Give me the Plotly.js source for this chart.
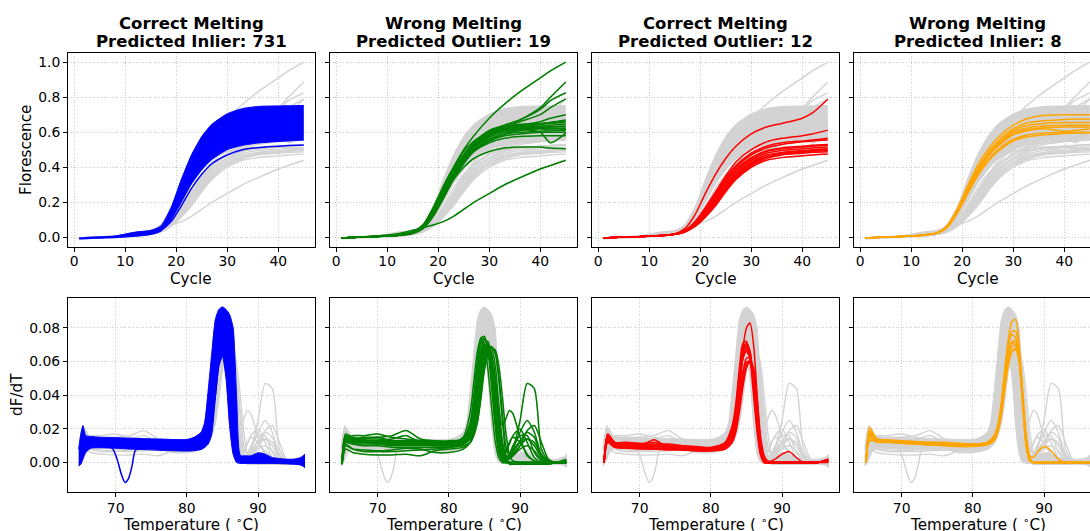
<!DOCTYPE html>
<html>
<head>
<meta charset="utf-8">
<script src="https://cdn.plot.ly/plotly-3.0.1.min.js"></script>
<style>
html,body{margin:0;padding:0;overflow:hidden;background:#fff;width:1090px;height:531px;}
#chart{width:1110px;height:545px;}
</style>
</head>
<body>
<div id="chart"></div>
<script>
// ---------------- DATA ----------------
const TITLES_TOP = ["Correct Melting", "Wrong Melting", "Correct Melting", "Wrong Melting"];
const TITLES_BOTTOM = ["Predicted Inlier: 731", "Predicted Outlier: 19", "Predicted Outlier: 12", "Predicted Inlier: 8"];
const X_TITLES = ["Cycle", "Temperature ( <sup>∘</sup>C)"];
const Y_TITLES = ["Florescence", "dF/dT"];

const CYCLES = [1, 4, 8, 12, 15, 17, 19, 21, 23, 25, 27, 30, 33, 36, 40, 42, 45];
const CYCLE_TICKS = [0, 10, 20, 30, 40];
const FLUOR_TICKS = [0, 0.2, 0.4, 0.6, 0.8, 1.0];
const FLUOR_TICK_TEXT = ["0.0", "0.2", "0.4", "0.6", "0.8", "1.0"];

// amplification: band of 731 inlier curves (upper / lower envelope) + separate blue curve
const AMP_BLUE_UPPER = [-0.005, 0.0, 0.008, 0.03, 0.04, 0.065, 0.17, 0.33, 0.47, 0.575, 0.645, 0.705, 0.735, 0.747, 0.75, 0.751, 0.752];
const AMP_BLUE_LOWER = [-0.01, -0.006, -0.002, 0.006, 0.016, 0.035, 0.1, 0.2, 0.305, 0.385, 0.445, 0.5, 0.525, 0.538, 0.547, 0.55, 0.555];
const AMP_BLUE_LINE  = [-0.005, 0.0, 0.004, 0.01, 0.02, 0.04, 0.09, 0.18, 0.28, 0.36, 0.42, 0.47, 0.5, 0.512, 0.52, 0.524, 0.527];

const AMP_GREEN = [
  [-0.004, 0, 0.006, 0.015, 0.03, 0.07, 0.17, 0.29, 0.4, 0.5, 0.58, 0.68, 0.76, 0.83, 0.91, 0.95, 1.0],
  [-0.004, 0, 0.005, 0.013, 0.028, 0.065, 0.16, 0.28, 0.39, 0.47, 0.54, 0.6, 0.64, 0.67, 0.74, 0.8, 0.887],
  [-0.003, 0, 0.005, 0.012, 0.027, 0.06, 0.15, 0.27, 0.38, 0.47, 0.54, 0.61, 0.64, 0.67, 0.73, 0.78, 0.825],
  [-0.003, 0, 0.005, 0.012, 0.026, 0.06, 0.14, 0.26, 0.37, 0.46, 0.53, 0.6, 0.63, 0.66, 0.7, 0.74, 0.79],
  [-0.003, 0.001, 0.006, 0.013, 0.027, 0.06, 0.15, 0.27, 0.38, 0.47, 0.53, 0.59, 0.62, 0.64, 0.66, 0.68, 0.70],
  [-0.003, 0.001, 0.006, 0.013, 0.028, 0.065, 0.16, 0.29, 0.4, 0.49, 0.55, 0.6, 0.63, 0.645, 0.65, 0.655, 0.665],
  [-0.003, 0, 0.005, 0.012, 0.026, 0.06, 0.15, 0.27, 0.38, 0.47, 0.53, 0.59, 0.62, 0.63, 0.635, 0.64, 0.645],
  [-0.003, 0, 0.005, 0.012, 0.025, 0.055, 0.14, 0.25, 0.36, 0.45, 0.52, 0.58, 0.61, 0.62, 0.625, 0.63, 0.63],
  [-0.004, 0, 0.005, 0.011, 0.024, 0.055, 0.13, 0.24, 0.35, 0.44, 0.51, 0.57, 0.6, 0.615, 0.62, 0.62, 0.62],
  [-0.004, 0, 0.005, 0.011, 0.024, 0.05, 0.12, 0.23, 0.34, 0.43, 0.5, 0.56, 0.59, 0.6, 0.605, 0.61, 0.61],
  [-0.003, 0.001, 0.006, 0.014, 0.03, 0.065, 0.15, 0.26, 0.36, 0.44, 0.5, 0.55, 0.58, 0.59, 0.6, 0.6, 0.6],
  [-0.003, 0, 0.004, 0.01, 0.022, 0.05, 0.12, 0.22, 0.33, 0.42, 0.49, 0.55, 0.59, 0.61, 0.62, 0.61, 0.615],
  [-0.004, 0, 0.005, 0.012, 0.025, 0.06, 0.14, 0.26, 0.37, 0.46, 0.52, 0.58, 0.61, 0.615, 0.6, 0.54, 0.595],
  [-0.003, 0, 0.005, 0.012, 0.026, 0.058, 0.14, 0.25, 0.36, 0.45, 0.52, 0.585, 0.615, 0.625, 0.63, 0.63, 0.635],
  [-0.003, 0, 0.005, 0.013, 0.027, 0.062, 0.15, 0.27, 0.38, 0.47, 0.54, 0.6, 0.63, 0.64, 0.645, 0.65, 0.655],
  [-0.003, 0, 0.005, 0.012, 0.026, 0.058, 0.14, 0.26, 0.37, 0.46, 0.53, 0.59, 0.62, 0.63, 0.645, 0.655, 0.67],
  [-0.003, 0, 0.006, 0.015, 0.032, 0.07, 0.15, 0.25, 0.33, 0.4, 0.45, 0.49, 0.51, 0.515, 0.515, 0.51, 0.505],
  [-0.003, 0.002, 0.008, 0.02, 0.04, 0.055, 0.07, 0.09, 0.12, 0.16, 0.2, 0.25, 0.3, 0.34, 0.39, 0.41, 0.44],
  [-0.004, 0, 0.005, 0.012, 0.025, 0.055, 0.13, 0.24, 0.34, 0.43, 0.49, 0.54, 0.565, 0.575, 0.58, 0.58, 0.58]
];

const AMP_RED = [
  [-0.004, 0, 0.004, 0.01, 0.02, 0.05, 0.13, 0.25, 0.36, 0.45, 0.52, 0.59, 0.63, 0.65, 0.68, 0.71, 0.788],
  [-0.004, 0, 0.004, 0.01, 0.02, 0.04, 0.09, 0.17, 0.26, 0.35, 0.43, 0.5, 0.545, 0.565, 0.58, 0.59, 0.612],
  [-0.004, 0, 0.004, 0.01, 0.019, 0.038, 0.085, 0.16, 0.25, 0.34, 0.41, 0.48, 0.52, 0.54, 0.55, 0.555, 0.565],
  [-0.004, 0, 0.004, 0.01, 0.019, 0.037, 0.08, 0.15, 0.24, 0.33, 0.4, 0.47, 0.51, 0.53, 0.545, 0.55, 0.555],
  [-0.004, 0, 0.004, 0.009, 0.018, 0.035, 0.078, 0.145, 0.23, 0.31, 0.38, 0.45, 0.49, 0.505, 0.515, 0.52, 0.525],
  [-0.004, 0, 0.004, 0.009, 0.018, 0.034, 0.075, 0.14, 0.22, 0.3, 0.37, 0.44, 0.48, 0.495, 0.505, 0.51, 0.515],
  [-0.004, 0, 0.004, 0.009, 0.018, 0.033, 0.07, 0.13, 0.21, 0.29, 0.36, 0.43, 0.47, 0.485, 0.495, 0.5, 0.505],
  [-0.004, 0, 0.004, 0.009, 0.017, 0.032, 0.068, 0.125, 0.2, 0.28, 0.35, 0.42, 0.46, 0.475, 0.485, 0.49, 0.495],
  [-0.004, 0, 0.004, 0.009, 0.017, 0.031, 0.065, 0.12, 0.19, 0.27, 0.34, 0.41, 0.45, 0.47, 0.48, 0.485, 0.488],
  [-0.004, 0, 0.004, 0.009, 0.017, 0.03, 0.062, 0.115, 0.18, 0.26, 0.33, 0.4, 0.44, 0.455, 0.465, 0.47, 0.475],
  [-0.004, 0, 0.004, 0.009, 0.018, 0.036, 0.08, 0.15, 0.235, 0.32, 0.39, 0.455, 0.495, 0.51, 0.52, 0.525, 0.53],
  [-0.004, 0, 0.004, 0.009, 0.017, 0.033, 0.07, 0.13, 0.2, 0.28, 0.35, 0.42, 0.46, 0.48, 0.49, 0.495, 0.5]
];

const AMP_ORANGE = [
  [-0.004, 0, 0.005, 0.012, 0.025, 0.065, 0.16, 0.29, 0.41, 0.5, 0.57, 0.64, 0.68, 0.695, 0.70, 0.70, 0.70],
  [-0.004, 0, 0.005, 0.012, 0.025, 0.062, 0.155, 0.28, 0.39, 0.48, 0.55, 0.62, 0.655, 0.665, 0.673, 0.675, 0.675],
  [-0.004, 0, 0.005, 0.012, 0.025, 0.06, 0.15, 0.27, 0.38, 0.47, 0.53, 0.6, 0.625, 0.635, 0.64, 0.64, 0.64],
  [-0.004, 0, 0.005, 0.012, 0.024, 0.058, 0.145, 0.26, 0.37, 0.46, 0.52, 0.59, 0.615, 0.625, 0.63, 0.63, 0.63],
  [-0.004, 0, 0.005, 0.012, 0.024, 0.058, 0.145, 0.26, 0.37, 0.46, 0.52, 0.585, 0.61, 0.62, 0.605, 0.61, 0.62],
  [-0.004, 0, 0.005, 0.011, 0.023, 0.055, 0.14, 0.25, 0.36, 0.44, 0.5, 0.56, 0.585, 0.595, 0.6, 0.6, 0.6],
  [-0.004, 0, 0.005, 0.011, 0.023, 0.054, 0.135, 0.245, 0.35, 0.43, 0.49, 0.55, 0.575, 0.585, 0.593, 0.595, 0.595],
  [-0.004, 0, 0.005, 0.012, 0.025, 0.06, 0.15, 0.27, 0.38, 0.47, 0.54, 0.61, 0.64, 0.65, 0.655, 0.655, 0.655]
];

// melt curves
const TEMPS = [65, 65.5, 66.5, 68, 70, 72, 74, 76, 78, 80, 82, 83, 83.5, 84, 84.5, 85, 85.5, 86, 86.5, 87, 87.5, 88, 88.5, 89, 90, 91, 92, 93, 94, 95, 96.5];
const TEMP_TICKS = [70, 80, 90];
const DFDT_TICKS = [0, 0.02, 0.04, 0.06, 0.08];
const DFDT_TICK_TEXT = ["0.00", "0.02", "0.04", "0.06", "0.08"];

const TEMP_BAND = [64.8, 65.1, 65.4, 65.8, 66.5, 68, 70, 72, 74, 76, 78, 80, 81, 82, 82.5, 83, 83.5, 84, 84.5, 85, 85.5, 86, 86.5, 87, 87.5, 88, 89, 90, 91, 92, 94, 95, 96, 96.6];
const MELT_BLUE_UPPER = [0.008, 0.017, 0.022, 0.016, 0.0155, 0.015, 0.0148, 0.0145, 0.0142, 0.014, 0.0137, 0.0137, 0.015, 0.018, 0.024, 0.043, 0.065, 0.085, 0.091, 0.0925, 0.091, 0.088, 0.08, 0.038, 0.004, 0.004, 0.004, 0.0058, 0.005, 0.003, 0.002, 0.002, 0.003, 0.005];
const MELT_BLUE_LOWER = [-0.002, -0.001, 0.002, 0.006, 0.0085, 0.0088, 0.0085, 0.008, 0.0077, 0.0073, 0.007, 0.0068, 0.007, 0.0078, 0.009, 0.011, 0.017, 0.038, 0.057, 0.063, 0.05, 0.022, 0.005, 0.0, -0.0005, -0.0005, -0.0005, -0.0005, -0.0005, -0.0005, -0.0008, -0.001, -0.0015, -0.003];

const TEMP_DIP = [65, 65.5, 66.5, 68, 69.5, 70.2, 70.8, 71.3, 71.8, 72.3, 72.8, 74, 76, 78, 80, 82, 83, 84, 85, 86, 87, 88, 90, 92, 94, 96.5];
const MELT_BLUE_DIP = [0.002, 0.012, 0.0105, 0.0095, 0.0085, 0.002, -0.007, -0.0118, -0.0095, -0.002, 0.0075, 0.009, 0.0088, 0.0085, 0.0085, 0.0095, 0.014, 0.04, 0.075, 0.062, 0.01, 0.001, 0.0, 0.0, 0.0, 0.001];

const MELT_GREEN = [
  [0.0, 0.014, 0.013, 0.013, 0.012, 0.012, 0.012, 0.011, 0.011, 0.011, 0.013, 0.022, 0.035, 0.058, 0.074, 0.075, 0.066, 0.045, 0.022, 0.006, 0.001, 0.0, 0.0, 0.0, 0.0, 0.0, 0.0, 0.0, 0.0, 0.0, 0.001],
  [-0.001, 0.012, 0.014, 0.014, 0.015, 0.013, 0.013, 0.012, 0.012, 0.012, 0.014, 0.024, 0.04, 0.06, 0.072, 0.074, 0.068, 0.05, 0.028, 0.01, 0.004, 0.003, 0.004, 0.008, 0.025, 0.047, 0.044, 0.008, 0.001, 0.0, 0.0],
  [0.0, 0.015, 0.014, 0.013, 0.013, 0.012, 0.012, 0.011, 0.011, 0.011, 0.012, 0.016, 0.022, 0.035, 0.055, 0.068, 0.07, 0.065, 0.05, 0.032, 0.022, 0.026, 0.031, 0.029, 0.015, 0.004, 0.001, 0.0, 0.0, 0.0, 0.001],
  [0.001, 0.016, 0.013, 0.012, 0.012, 0.011, 0.011, 0.011, 0.01, 0.01, 0.011, 0.014, 0.019, 0.03, 0.05, 0.064, 0.069, 0.068, 0.058, 0.035, 0.012, 0.004, 0.004, 0.008, 0.018, 0.025, 0.018, 0.005, 0.001, 0.0, 0.0],
  [-0.001, 0.012, 0.011, 0.01, 0.01, 0.009, 0.009, 0.009, 0.009, 0.009, 0.01, 0.012, 0.016, 0.024, 0.04, 0.058, 0.066, 0.068, 0.066, 0.052, 0.03, 0.01, 0.004, 0.004, 0.01, 0.019, 0.022, 0.012, 0.002, 0.0, 0.0],
  [0.0, 0.013, 0.012, 0.012, 0.013, 0.014, 0.016, 0.012, 0.011, 0.011, 0.012, 0.018, 0.028, 0.045, 0.063, 0.071, 0.072, 0.06, 0.035, 0.012, 0.005, 0.006, 0.011, 0.016, 0.02, 0.012, 0.003, 0.0, 0.0, 0.0, 0.0],
  [-0.001, 0.008, 0.006, 0.005, 0.0045, 0.0045, 0.005, 0.004, 0.007, 0.008, 0.009, 0.012, 0.017, 0.028, 0.045, 0.06, 0.065, 0.06, 0.045, 0.025, 0.008, 0.003, 0.005, 0.01, 0.016, 0.016, 0.006, 0.001, 0.0, 0.0, 0.001],
  [0.0, 0.01, 0.008, 0.0075, 0.007, 0.0075, 0.0085, 0.008, 0.006, 0.006, 0.008, 0.012, 0.018, 0.03, 0.048, 0.063, 0.067, 0.062, 0.05, 0.03, 0.012, 0.004, 0.003, 0.006, 0.012, 0.014, 0.01, 0.003, 0.0, 0.0, 0.0],
  [0.0, 0.016, 0.014, 0.015, 0.015, 0.016, 0.019, 0.014, 0.013, 0.013, 0.014, 0.022, 0.034, 0.055, 0.07, 0.073, 0.068, 0.05, 0.026, 0.008, 0.002, 0.0, 0.0, 0.0, 0.0, 0.0, 0.0, 0.0, 0.0, 0.0, 0.001],
  [0.001, 0.014, 0.016, 0.016, 0.017, 0.015, 0.014, 0.013, 0.013, 0.012, 0.013, 0.02, 0.03, 0.05, 0.066, 0.07, 0.066, 0.052, 0.03, 0.01, 0.003, 0.001, 0.0, 0.0, 0.0, 0.0, 0.0, 0.0, 0.0, 0.0, 0.0],
  [0.0, 0.013, 0.012, 0.012, 0.012, 0.011, 0.011, 0.011, 0.011, 0.011, 0.012, 0.014, 0.017, 0.024, 0.038, 0.055, 0.064, 0.068, 0.067, 0.058, 0.04, 0.018, 0.005, 0.001, 0.0, -0.001, -0.001, -0.001, -0.001, 0.0, 0.001],
  [0.0, 0.013, 0.012, 0.012, 0.011, 0.011, 0.011, 0.011, 0.011, 0.011, 0.015, 0.03, 0.048, 0.066, 0.074, 0.07, 0.055, 0.033, 0.013, 0.003, 0.0, 0.0, 0.0, 0.0, 0.0, 0.0, 0.0, 0.0, 0.0, 0.0, 0.0],
  [0.0, 0.012, 0.013, 0.013, 0.012, 0.012, 0.012, 0.011, 0.011, 0.011, 0.012, 0.017, 0.025, 0.04, 0.06, 0.07, 0.069, 0.058, 0.036, 0.014, 0.006, 0.007, 0.012, 0.015, 0.012, 0.005, 0.001, 0.0, 0.0, 0.0, 0.0],
  [-0.001, 0.011, 0.008, 0.0065, 0.0065, 0.0065, 0.007, 0.0075, 0.008, 0.009, 0.011, 0.016, 0.024, 0.038, 0.056, 0.066, 0.067, 0.06, 0.044, 0.022, 0.007, 0.002, 0.0, 0.0, 0.0, 0.0, 0.0, 0.0, 0.0, 0.0, 0.0],
  [0.0, 0.014, 0.013, 0.013, 0.013, 0.013, 0.012, 0.012, 0.012, 0.012, 0.013, 0.019, 0.028, 0.045, 0.063, 0.07, 0.067, 0.055, 0.033, 0.012, 0.003, 0.002, 0.003, 0.005, 0.01, 0.014, 0.012, 0.004, 0.0, 0.0, 0.0],
  [0.001, 0.017, 0.015, 0.014, 0.014, 0.013, 0.013, 0.013, 0.012, 0.012, 0.013, 0.018, 0.026, 0.042, 0.06, 0.068, 0.066, 0.056, 0.036, 0.016, 0.005, 0.001, 0.0, 0.0, 0.0, 0.0, 0.0, 0.0, 0.0, 0.0, 0.002],
  [0.0, 0.012, 0.011, 0.011, 0.011, 0.01, 0.01, 0.01, 0.01, 0.01, 0.011, 0.015, 0.021, 0.033, 0.05, 0.062, 0.066, 0.063, 0.05, 0.03, 0.012, 0.004, 0.004, 0.007, 0.013, 0.018, 0.015, 0.004, 0.0, 0.0, 0.0],
  [0.0, 0.013, 0.012, 0.012, 0.012, 0.012, 0.012, 0.012, 0.012, 0.012, 0.013, 0.016, 0.02, 0.03, 0.046, 0.06, 0.068, 0.069, 0.065, 0.05, 0.026, 0.005, -0.001, -0.001, -0.001, -0.001, -0.001, -0.001, -0.001, 0.0, 0.0],
  [0.0, 0.015, 0.014, 0.013, 0.013, 0.013, 0.013, 0.013, 0.012, 0.012, 0.013, 0.02, 0.03, 0.048, 0.066, 0.073, 0.07, 0.056, 0.032, 0.011, 0.003, 0.001, 0.002, 0.004, 0.008, 0.01, 0.007, 0.002, 0.0, 0.0, 0.0]
];

const MELT_RED = [
  [0.0, 0.014, 0.011, 0.011, 0.01, 0.0095, 0.009, 0.0085, 0.008, 0.008, 0.01, 0.016, 0.026, 0.045, 0.068, 0.08, 0.083, 0.07, 0.04, 0.01, 0.001, 0.0, 0.0, 0.0, 0.0, 0.0, 0.0, 0.0, 0.0, 0.0, 0.002],
  [0.0, 0.017, 0.012, 0.011, 0.011, 0.012, 0.01, 0.009, 0.009, 0.009, 0.012, 0.022, 0.035, 0.056, 0.071, 0.072, 0.062, 0.04, 0.018, 0.004, 0.0, 0.0, 0.0, 0.0, 0.0, 0.0, 0.0, 0.0, 0.0, 0.0, 0.001],
  [0.0, 0.015, 0.01, 0.0095, 0.009, 0.0085, 0.008, 0.008, 0.0075, 0.0075, 0.01, 0.019, 0.03, 0.05, 0.067, 0.071, 0.066, 0.045, 0.02, 0.005, 0.0, 0.0, 0.0, 0.0, 0.0, 0.0, 0.0, 0.0, 0.0, 0.0, 0.001],
  [0.0, 0.013, 0.01, 0.01, 0.0095, 0.0135, 0.009, 0.0085, 0.008, 0.008, 0.009, 0.016, 0.026, 0.045, 0.062, 0.068, 0.064, 0.046, 0.022, 0.006, 0.001, 0.0, 0.0, 0.0, 0.0, 0.0, 0.0, 0.0, 0.0, 0.0, 0.001],
  [0.0, 0.012, 0.009, 0.009, 0.0085, 0.008, 0.008, 0.0075, 0.007, 0.007, 0.008, 0.012, 0.018, 0.03, 0.045, 0.056, 0.06, 0.055, 0.035, 0.012, 0.002, 0.0, 0.0, 0.0, 0.0, 0.0, 0.0, 0.0, 0.0, 0.0, 0.002],
  [0.0, 0.013, 0.0095, 0.009, 0.009, 0.0085, 0.008, 0.008, 0.0075, 0.0075, 0.009, 0.013, 0.02, 0.033, 0.048, 0.058, 0.061, 0.056, 0.038, 0.015, 0.004, 0.001, 0.001, 0.002, 0.005, 0.0065, 0.003, 0.0, 0.0, 0.0, 0.001],
  [0.001, 0.016, 0.012, 0.012, 0.0115, 0.011, 0.011, 0.01, 0.0095, 0.009, 0.011, 0.02, 0.032, 0.052, 0.066, 0.069, 0.063, 0.045, 0.022, 0.006, 0.0, 0.0, 0.0, 0.0, 0.0, 0.0, 0.0, 0.0, 0.0, 0.0, 0.0],
  [0.0, 0.014, 0.011, 0.01, 0.01, 0.0095, 0.0095, 0.009, 0.0085, 0.0085, 0.01, 0.017, 0.027, 0.046, 0.062, 0.067, 0.064, 0.05, 0.026, 0.008, 0.001, 0.0, 0.0, 0.0, 0.0, 0.0, 0.0, 0.0, 0.0, 0.0, 0.001],
  [0.0, 0.012, 0.01, 0.0095, 0.009, 0.0085, 0.0085, 0.0085, 0.008, 0.008, 0.009, 0.014, 0.022, 0.038, 0.054, 0.062, 0.062, 0.052, 0.03, 0.01, 0.002, 0.0, 0.0, 0.0, 0.0, 0.0, 0.0, 0.0, 0.0, 0.0, 0.001],
  [0.0, 0.015, 0.012, 0.0115, 0.011, 0.0105, 0.0105, 0.01, 0.009, 0.0085, 0.01, 0.018, 0.03, 0.05, 0.065, 0.07, 0.066, 0.048, 0.024, 0.007, 0.001, 0.0, 0.0, 0.0, 0.0, 0.0, 0.0, 0.0, 0.0, 0.0, 0.001],
  [0.0, 0.016, 0.011, 0.0105, 0.01, 0.01, 0.0095, 0.009, 0.0085, 0.008, 0.01, 0.017, 0.028, 0.047, 0.062, 0.066, 0.062, 0.046, 0.023, 0.007, 0.001, 0.0, 0.0, 0.0, 0.0, 0.0, 0.0, 0.0, 0.0, 0.0, 0.001],
  [0.0, 0.012, 0.009, 0.0085, 0.008, 0.008, 0.0075, 0.0075, 0.007, 0.007, 0.008, 0.013, 0.021, 0.036, 0.052, 0.06, 0.059, 0.05, 0.03, 0.01, 0.002, 0.0, 0.0, 0.0, 0.0, 0.0, 0.0, 0.0, 0.0, 0.0, 0.002]
];

const MELT_ORANGE = [
  [0.0, 0.021, 0.014, 0.013, 0.0125, 0.012, 0.012, 0.0115, 0.011, 0.011, 0.012, 0.016, 0.022, 0.035, 0.055, 0.074, 0.084, 0.085, 0.07, 0.04, 0.012, 0.002, 0.0, 0.0, 0.0, 0.0, 0.0, 0.0, 0.0, 0.0, 0.0],
  [0.0, 0.018, 0.013, 0.0125, 0.012, 0.012, 0.0115, 0.011, 0.0105, 0.0105, 0.0115, 0.015, 0.021, 0.034, 0.053, 0.07, 0.078, 0.078, 0.066, 0.038, 0.011, 0.002, 0.0, 0.0, 0.0, 0.0, 0.0, 0.0, 0.0, 0.0, 0.0],
  [0.0, 0.016, 0.0135, 0.013, 0.012, 0.0115, 0.011, 0.011, 0.0105, 0.0105, 0.0115, 0.015, 0.02, 0.032, 0.05, 0.066, 0.072, 0.072, 0.062, 0.036, 0.01, 0.001, 0.0, 0.0, 0.0, 0.0, 0.0, 0.0, 0.0, 0.0, 0.0],
  [0.0, 0.014, 0.013, 0.0125, 0.012, 0.0115, 0.011, 0.011, 0.0105, 0.01, 0.011, 0.014, 0.019, 0.03, 0.047, 0.062, 0.069, 0.07, 0.062, 0.038, 0.014, 0.004, 0.003, 0.006, 0.0095, 0.007, 0.002, 0.0, 0.0, 0.0, 0.0],
  [0.0, 0.015, 0.012, 0.012, 0.0115, 0.011, 0.0105, 0.0105, 0.01, 0.01, 0.011, 0.014, 0.019, 0.03, 0.046, 0.06, 0.066, 0.067, 0.06, 0.038, 0.013, 0.002, 0.0, 0.0, 0.0, 0.0, 0.0, 0.0, 0.0, 0.0, 0.0],
  [0.0, 0.017, 0.0135, 0.013, 0.0125, 0.012, 0.0115, 0.011, 0.011, 0.0105, 0.0115, 0.015, 0.021, 0.033, 0.051, 0.066, 0.071, 0.07, 0.06, 0.034, 0.01, 0.001, 0.0, 0.0, 0.0, 0.0, 0.0, 0.0, 0.0, 0.0, 0.0],
  [0.0, 0.013, 0.0125, 0.012, 0.0115, 0.011, 0.0105, 0.01, 0.0095, 0.0095, 0.0105, 0.013, 0.018, 0.028, 0.044, 0.058, 0.066, 0.068, 0.063, 0.042, 0.016, 0.003, 0.0, 0.0, 0.0, 0.0, 0.0, 0.0, 0.0, 0.0, 0.0],
  [0.0, 0.019, 0.014, 0.0135, 0.013, 0.0125, 0.012, 0.012, 0.0115, 0.011, 0.012, 0.016, 0.022, 0.036, 0.056, 0.071, 0.076, 0.074, 0.063, 0.035, 0.009, 0.001, 0.0, 0.0, 0.0, 0.0, 0.0, 0.0, 0.0, 0.0, 0.0]
];

// ---------------- STYLE ----------------
const COLORS = ["#0000ff", "#008000", "#ff0000", "#ffa500"];
const GREY = "#d3d3d3";
const FONT = "DejaVu Sans";
const W = 1110, H = 545;
const COL_PX = [[68, 315], [330, 577], [592, 839], [854, 1101]];
const ROW_PX = [[53, 247], [298, 492]];

function joinLines(xs, arrs) {
  const x = [], y = [];
  arrs.forEach(a => {
    a.forEach((v, i) => { x.push(xs[i]); y.push(v); });
    x.push(null); y.push(null);
  });
  return {x, y};
}
function mergeXY(a, b) { return {x: a.x.concat(b.x), y: a.y.concat(b.y)}; }

const traces = [];
function lineTrace(xy, color, width, k) {
  traces.push({x: xy.x, y: xy.y, mode: "lines", connectgaps: false,
    line: {color: color, width: width, shape: "spline", smoothing: 0.7},
    xaxis: "x" + k, yaxis: "y" + k, hoverinfo: "skip", showlegend: false});
}
function bandTrace(xs, lo, hi, color, k) {
  traces.push({x: xs, y: lo, mode: "lines", line: {color: color, width: 1, shape: "spline", smoothing: 0.6},
    xaxis: "x" + k, yaxis: "y" + k, hoverinfo: "skip", showlegend: false});
  traces.push({x: xs, y: hi, mode: "lines", fill: "tonexty", fillcolor: color,
    line: {color: color, width: 1, shape: "spline", smoothing: 0.6},
    xaxis: "x" + k, yaxis: "y" + k, hoverinfo: "skip", showlegend: false});
}

const AMP_GROUPS = [null, AMP_GREEN, AMP_RED, AMP_ORANGE];
const MELT_GROUPS = [null, MELT_GREEN, MELT_RED, MELT_ORANGE];

const ampGrey = joinLines(CYCLES, AMP_GREEN.concat(AMP_RED, AMP_ORANGE, [AMP_BLUE_LINE]));
const meltGrey = mergeXY(joinLines(TEMPS, MELT_GREEN.concat(MELT_RED, MELT_ORANGE)), joinLines(TEMP_DIP, [MELT_BLUE_DIP]));

for (let c = 0; c < 4; c++) {
  const kt = c + 1;
  bandTrace(CYCLES, AMP_BLUE_LOWER, AMP_BLUE_UPPER, GREY, kt);
  lineTrace(ampGrey, GREY, 1.4, kt);
  if (c === 0) {
    bandTrace(CYCLES, AMP_BLUE_LOWER, AMP_BLUE_UPPER, COLORS[0], kt);
    lineTrace(joinLines(CYCLES, [AMP_BLUE_LINE]), COLORS[0], 1.5, kt);
  } else {
    lineTrace(joinLines(CYCLES, AMP_GROUPS[c]), COLORS[c], 1.5, kt);
  }
  const kb = c + 5;
  bandTrace(TEMP_BAND, MELT_BLUE_LOWER, MELT_BLUE_UPPER, GREY, kb);
  lineTrace(meltGrey, GREY, 1.4, kb);
  if (c === 0) {
    bandTrace(TEMP_BAND, MELT_BLUE_LOWER, MELT_BLUE_UPPER, COLORS[0], kb);
    lineTrace(joinLines(TEMP_DIP, [MELT_BLUE_DIP]), COLORS[0], 1.5, kb);
  } else {
    lineTrace(joinLines(TEMPS, MELT_GROUPS[c]), COLORS[c], 1.5, kb);
  }
}

const layout = {
  width: W, height: H,
  margin: {l: 0, r: 0, t: 0, b: 0},
  paper_bgcolor: "#ffffff", plot_bgcolor: "#ffffff",
  font: {family: FONT, color: "#000000", size: 14},
  showlegend: false,
  annotations: []
};

function axisBase() {
  return {
    showgrid: true, gridcolor: "#c8c8c8", griddash: "1px,1.6px", gridwidth: 0.9,
    zeroline: false, showline: true, linecolor: "#000000", linewidth: 1, mirror: true,
    ticks: "outside", ticklen: 4, tickwidth: 1, tickcolor: "#000000",
    tickfont: {family: FONT, size: 13.9, color: "#000000"},
    tickmode: "array", fixedrange: true
  };
}

for (let r = 0; r < 2; r++) {
  for (let c = 0; c < 4; c++) {
    const k = r * 4 + c + 1;
    const xa = axisBase(), ya = axisBase();
    xa.domain = [COL_PX[c][0] / W, COL_PX[c][1] / W];
    ya.domain = [1 - ROW_PX[r][1] / H, 1 - ROW_PX[r][0] / H];
    xa.anchor = "y" + k; ya.anchor = "x" + k;
    if (r === 0) {
      xa.range = [-1.2, 47.2]; xa.tickvals = CYCLE_TICKS; xa.ticktext = CYCLE_TICKS.map(String);
      ya.range = [-0.055, 1.052]; ya.tickvals = FLUOR_TICKS; ya.ticktext = FLUOR_TICK_TEXT;
      xa.ticklabelstandoff = -3;
    } else {
      xa.range = [63.3, 98.0]; xa.tickvals = TEMP_TICKS; xa.ticktext = TEMP_TICKS.map(String);
      ya.range = [-0.0175, 0.0978]; ya.tickvals = DFDT_TICKS; ya.ticktext = DFDT_TICK_TEXT;
      xa.ticklabelstandoff = -1;
    }
    ya.showticklabels = (c === 0);
    layout["xaxis" + k] = xa;
    layout["yaxis" + k] = ya;

    // axis titles (placed as annotations for exact positioning)
    const cx = (COL_PX[c][0] + COL_PX[c][1]) / 2 / W;
    const titleY = r === 0 ? 278.5 : 524;
    layout.annotations.push({text: X_TITLES[r], x: cx, y: 1 - titleY / H, xref: "paper", yref: "paper",
      xanchor: "center", yanchor: "middle", showarrow: false, font: {family: FONT, size: 15.2, color: "#000"}});
    if (c === 0) {
      const cy = 1 - (ROW_PX[r][0] + ROW_PX[r][1]) / 2 / H;
      const tx = r === 0 ? 26 : 17;
      layout.annotations.push({text: Y_TITLES[r], x: tx / W, y: cy, xref: "paper", yref: "paper", textangle: -90,
        xanchor: "center", yanchor: "middle", showarrow: false, font: {family: FONT, size: 15.2, color: "#000"}});
    }
  }
}

for (let c = 0; c < 4; c++) {
  const cx = (COL_PX[c][0] + COL_PX[c][1]) / 2 / W;
  layout.annotations.push({text: "<b>" + TITLES_TOP[c] + "</b>", x: cx, y: 1 - 23 / H, xref: "paper", yref: "paper",
    xanchor: "center", yanchor: "middle", showarrow: false, font: {family: FONT, size: 16.5, color: "#000"}});
  layout.annotations.push({text: "<b>" + TITLES_BOTTOM[c] + "</b>", x: cx, y: 1 - 41.5 / H, xref: "paper", yref: "paper",
    xanchor: "center", yanchor: "middle", showarrow: false, font: {family: FONT, size: 16.5, color: "#000"}});
}

Plotly.newPlot("chart", traces, layout, {staticPlot: true, displayModeBar: false});
</script>
</body>
</html>
